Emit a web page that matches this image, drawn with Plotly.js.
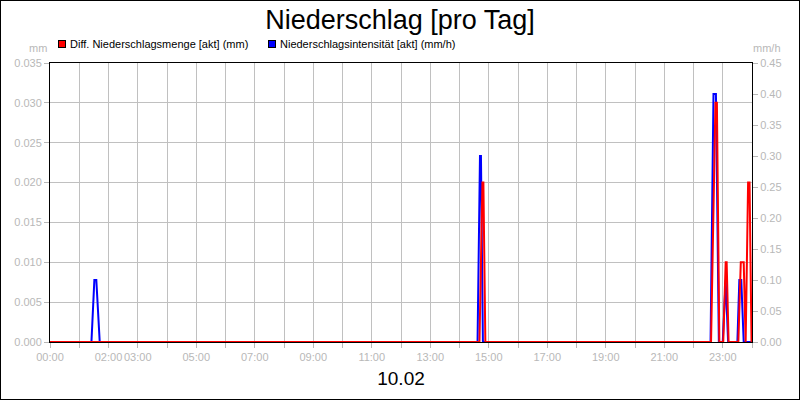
<!DOCTYPE html>
<html>
<head>
<meta charset="utf-8">
<script src="https://cdn.plot.ly/plotly-3.0.1.min.js"></script>
<style>
html, body { margin: 0; padding: 0; background: #fff; }
#chart { width: 798px; height: 398px; border: 1px solid #000; }
</style>
</head>
<body>
<div id="chart"></div>
<script>
// ---- data ----
const day = '2021-02-10';
const nextDay = '2021-02-11';

// Niederschlagsintensität [akt] (mm/h) – right axis
const intensityTimes = ['00:00', '01:25', '01:31', '01:35', '01:42',
  '14:37', '14:42', '14:44', '14:48',
  '22:35', '22:41', '22:46', '22:52',
  '23:00', '23:06', '23:11',
  '23:30', '23:34', '23:38', '23:43', '24:00'];
const intensityValues = [0, 0, 0.1, 0.1, 0,
  0, 0.3, 0.3, 0,
  0, 0.4, 0.4, 0,
  0, 0.1, 0,
  0, 0.1, 0.1, 0, 0];

// Diff. Niederschlagsmenge [akt] (mm) – left axis
const amountTimes = ['00:00', '14:41', '14:47', '14:49', '14:53',
  '22:36', '22:45', '22:48', '22:53',
  '23:01', '23:06', '23:08', '23:12',
  '23:32', '23:37', '23:43', '23:47', '23:52', '23:55', '23:59'];
const amountValues = [0, 0, 0.02, 0.02, 0,
  0, 0.03, 0.03, 0,
  0, 0.01, 0.01, 0,
  0, 0.01, 0.01, 0, 0.02, 0.02, 0];

// x tick labels, one per hour 00..24
const hourLabels = ['00:00', '', '02:00', '03:00', '', '05:00', '', '07:00', '', '09:00', '', '11:00', '',
  '13:00', '', '15:00', '', '17:00', '', '19:00', '', '21:00', '', '23:00', ''];

const titleText = 'Niederschlag [pro Tag]';
const dateLabel = '10.02';
const amountName = 'Diff. Niederschlagsmenge [akt] (mm)';
const intensityName = 'Niederschlagsintensität [akt] (mm/h)';
const leftUnit = 'mm';
const rightUnit = 'mm/h';

// ---- helpers ----
const toDate = t => (t === '24:00' ? nextDay + ' 00:00' : day + ' ' + t);
const tickVals = hourLabels.map((_, i) => (i === 24 ? nextDay + ' 00:00' : day + ' ' + String(i).padStart(2, '0') + ':00'));

const RED = '#ff0000';
const BLUE = '#0000ff';
const GRAY = '#b8b8b8';
const GRID = '#c0c0c0';
const FONT = 'Liberation Sans, Arial, sans-serif';

const traces = [
  {
    name: intensityName, type: 'scatter', mode: 'lines',
    x: intensityTimes.map(toDate), y: intensityValues, yaxis: 'y',
    line: { color: BLUE, width: 2 }, showlegend: false
  },
  {
    name: amountName, type: 'scatter', mode: 'lines',
    x: amountTimes.map(toDate), y: amountValues, yaxis: 'y2',
    line: { color: RED, width: 2 }, showlegend: false
  }
];

// legend drawn as annotations (colour box + label)
function legendEntry(color, label, boxShift, textShift) {
  return [
    { text: ' ', xref: 'paper', yref: 'paper', x: 0, y: 1, xanchor: 'center', yanchor: 'middle',
      xshift: boxShift, yshift: 19.5, width: 6, height: 6, bgcolor: color, bordercolor: '#000',
      borderwidth: 1, borderpad: 0, showarrow: false, font: { size: 2 } },
    { text: label, xref: 'paper', yref: 'paper', x: 0, y: 1, xanchor: 'left', yanchor: 'middle',
      xshift: textShift, yshift: 19, showarrow: false, font: { family: FONT, size: 11, color: '#000' } }
  ];
}

const layout = {
  width: 798, height: 398,
  margin: { l: 49, r: 47, t: 62, b: 57, pad: 0 },
  paper_bgcolor: '#fff', plot_bgcolor: '#fff',
  font: { family: FONT, size: 11, color: GRAY },
  title: {
    text: titleText, font: { family: FONT, size: 27, color: '#000' },
    x: 0.5, xanchor: 'center', xref: 'container',
    y: 0.977, yanchor: 'top', yref: 'container'
  },
  showlegend: false,
  xaxis: {
    type: 'date', range: [toDate('00:00'), toDate('24:00')],
    tickmode: 'array', tickvals: tickVals, ticktext: hourLabels, tickangle: 0,
    ticks: 'outside', ticklen: 5, tickcolor: GRAY, tickfont: { size: 11, color: GRAY },
    showgrid: true, gridcolor: GRID, gridwidth: 1,
    showline: true, linecolor: '#000', linewidth: 1, mirror: true, zeroline: false,
    title: { text: dateLabel, font: { family: FONT, size: 19, color: '#000' }, standoff: 9 },
    fixedrange: true
  },
  yaxis: {
    range: [0, 0.45], tick0: 0, dtick: 0.05, tickformat: '.2f', side: 'right',
    showgrid: false, zeroline: false, showline: true, linecolor: '#000', linewidth: 1,
    ticks: 'outside', ticklen: 5, tickcolor: GRAY, tickfont: { size: 11, color: GRAY },
    fixedrange: true
  },
  yaxis2: {
    overlaying: 'y', side: 'left', anchor: 'x',
    range: [0, 0.035], tick0: 0, dtick: 0.005, tickformat: '.3f',
    showgrid: true, gridcolor: GRID, gridwidth: 1, zeroline: false,
    showline: true, linecolor: '#000', linewidth: 1,
    ticks: 'outside', ticklen: 5, tickcolor: GRAY, tickfont: { size: 11, color: GRAY },
    fixedrange: true
  },
  annotations: [
    { text: leftUnit, xref: 'paper', yref: 'paper', x: 0, y: 1, xanchor: 'right', yanchor: 'bottom',
      xshift: -1, yshift: 7, showarrow: false, font: { family: FONT, size: 11, color: GRAY } },
    { text: rightUnit, xref: 'paper', yref: 'paper', x: 1, y: 1, xanchor: 'left', yanchor: 'bottom',
      xshift: -1, yshift: 7, showarrow: false, font: { family: FONT, size: 11, color: GRAY } },
    ...legendEntry(RED, amountName, 12, 18),
    ...legendEntry(BLUE, intensityName, 222, 228)
  ]
};

Plotly.newPlot('chart', traces, layout, { displayModeBar: false, staticPlot: true });
</script>
</body>
</html>
